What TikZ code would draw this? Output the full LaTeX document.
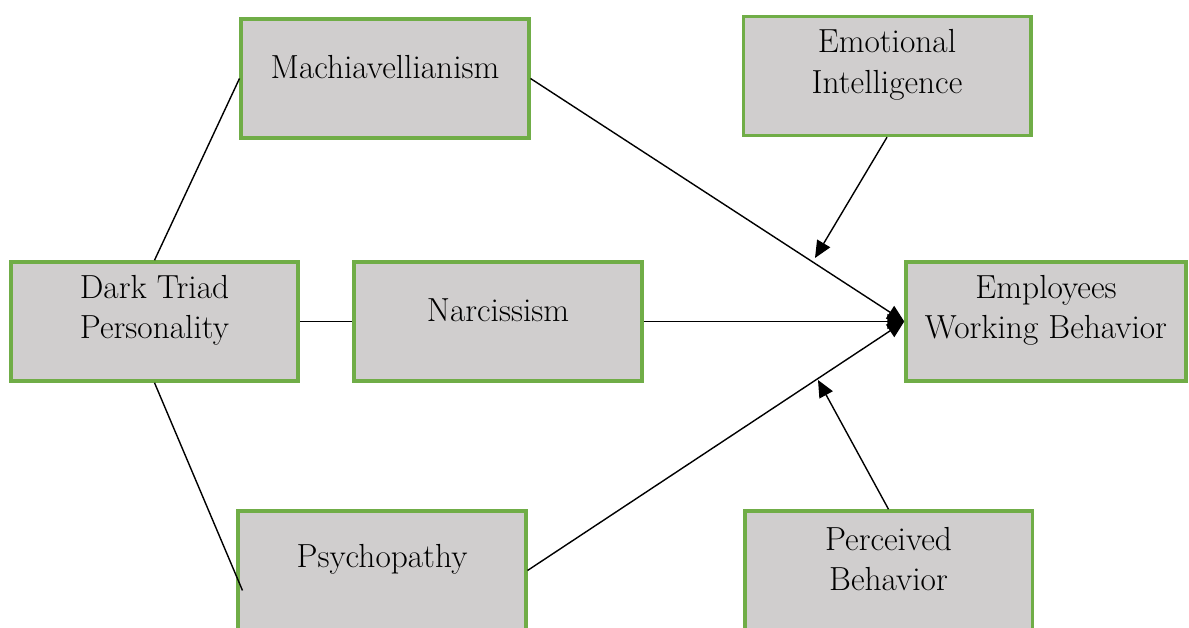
\documentclass[tikz,border=0pt]{standalone}
\usetikzlibrary{arrows.meta}
\definecolor{boxgreen}{RGB}{112,173,71}
\definecolor{boxgray}{RGB}{208,206,206}
\begin{document}
\begin{tikzpicture}[
	box/.style={draw=boxgreen, fill=boxgray, line width=2pt, minimum width=5.75cm, minimum height=2.38cm, inner sep=0pt},
	lbl/.style={align=center, font=\fontsize{19}{22.9}\selectfont, inner sep=0pt},
	link/.style={line width=0.8pt},
	tip/.style={line width=0.8pt, -{Triangle[length=0.34cm, width=0.3cm]}}
	]
	\clip (0,0) rectangle (23.78,12.56);
	
	% boxes
	\node[box] (mach) at (7.70, 10.99) {};
	\node[box] (emo) at (17.74, 11.04) {};
	\node[box] (dark) at (3.09, 6.13) {};
	\node[box] (narc) at (9.96, 6.13) {};
	\node[box, minimum width=5.6cm] (emp) at (20.92, 6.13) {};
	\node[box] (psych) at (7.64, 1.15) {};
	\node[box] (perc) at (17.77, 1.15) {};
	
	% labels
	\node[lbl] (mach-t) at ([yshift=-1cm]mach.north) {Machiavellianism};
	\node[lbl] (emo-t) at ([yshift=-1cm]emo.north) {Emotional\\Intelligence};
	\node[lbl] (dark-t) at ([yshift=-1cm]dark.north) {Dark Triad\\Personality};
	\node[lbl] (narc-t) at ([yshift=-1cm]narc.north) {Narcissism};
	\node[lbl] (emp-t) at ([yshift=-1cm]emp.north) {Employees\\Working Behavior};
	\node[lbl] (psych-t) at ([yshift=-1cm]psych.north) {Psychopathy};
	\node[lbl] (perc-t) at ([yshift=-1cm]perc.north) {Perceived\\Behavior};
	
	% dark triad links
	\draw[link] (dark.north) -- (mach.west);
	\draw[link] (dark.east) -- (narc.west);
	\draw[link] (dark.south) -- ([shift={(0.12,-0.4)}]psych.west);
	
	% paths to behavior
	\foreach \src in {mach, narc, psych}
	\draw[tip] (\src.east) -- (emp.west);
	
	% moderators
	\coordinate (emo-end) at (16.30, 7.40);
	\coordinate (perc-end) at (16.36, 4.96);
	\draw[tip] (emo.south) -- (emo-end);
	\draw[tip] (perc.north) -- (perc-end);
\end{tikzpicture}
\end{document}
